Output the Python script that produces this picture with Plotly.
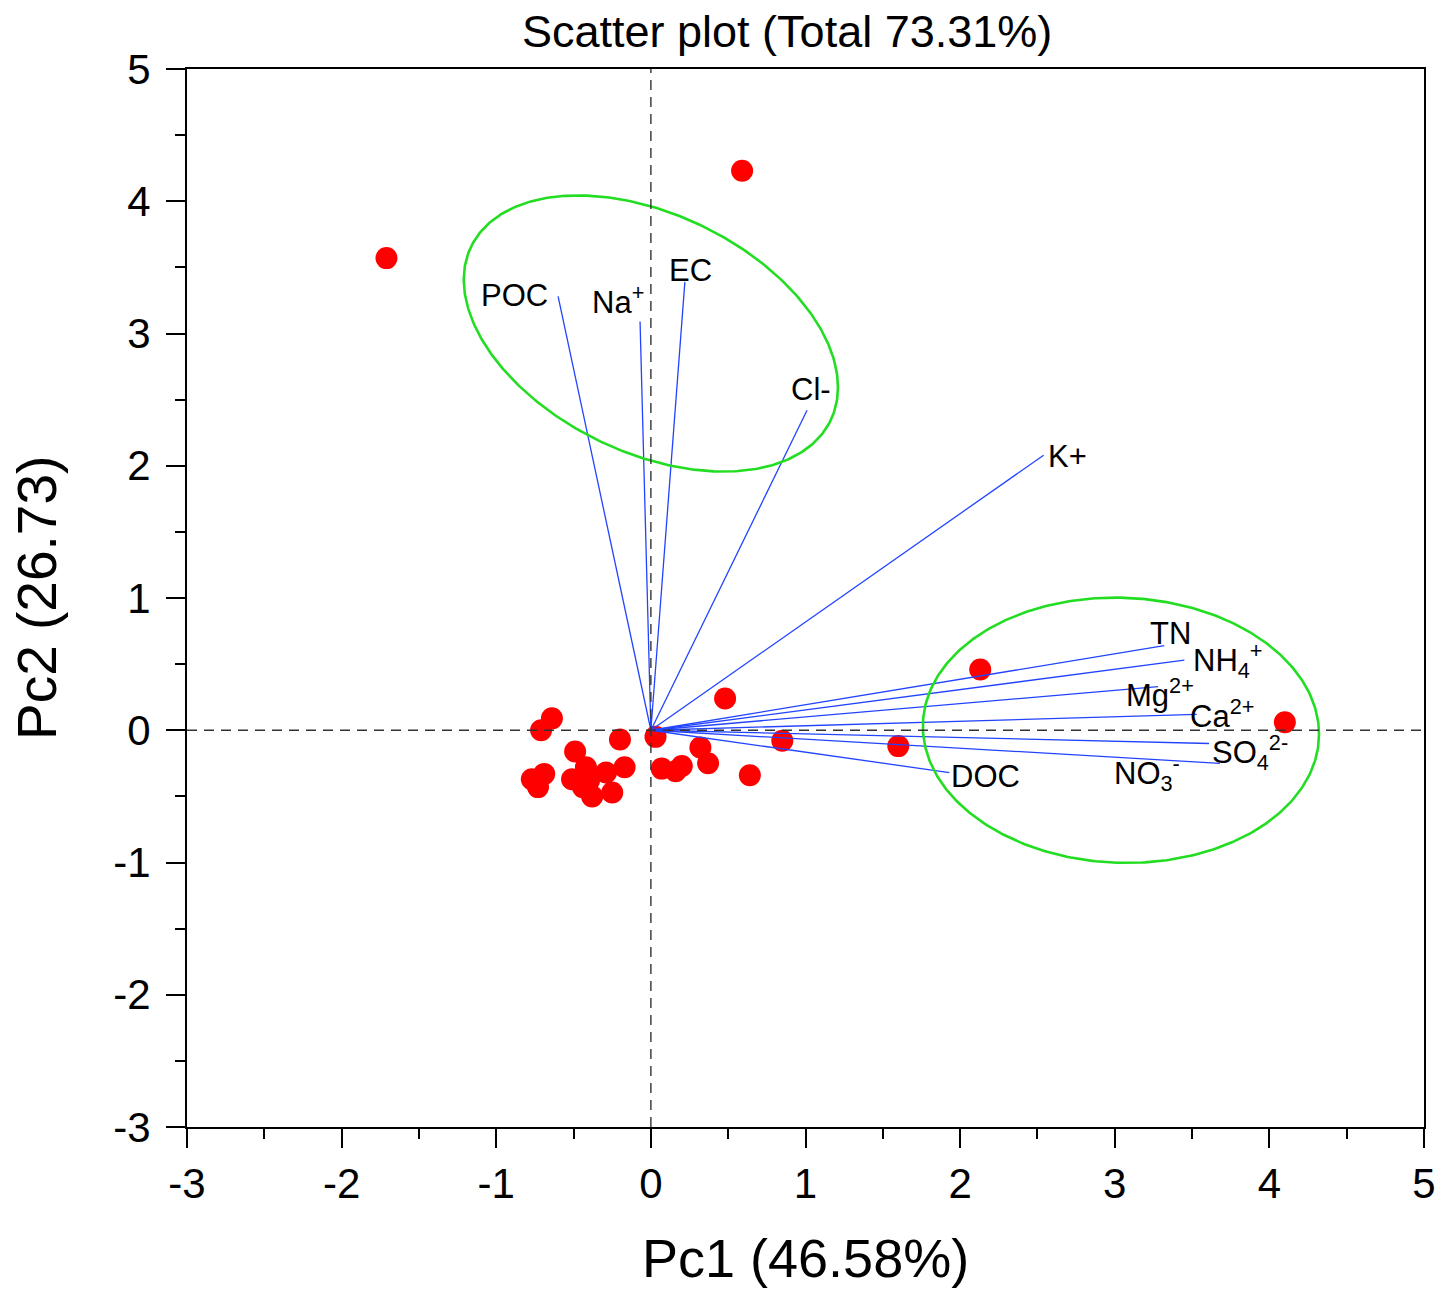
import numpy as np
import plotly.graph_objects as go

# ---- data ----
pc1 = [0.59, -1.71, 2.13, 4.10, 0.48, 0.85, 1.60, 0.64, 0.03, 0.32, 0.37, 0.07, 0.16, 0.20,
       -0.20, -0.64, -0.71, -0.49, -0.17, -0.42, -0.29, -0.51, -0.40, -0.44, -0.38, -0.25,
       -0.69, -0.77, -0.73]
pc2 = [4.23, 3.57, 0.46, 0.06, 0.24, -0.08, -0.12, -0.34, -0.05, -0.13, -0.25, -0.29, -0.31, -0.27,
       -0.07, 0.09, 0.00, -0.16, -0.28, -0.28, -0.32, -0.37, -0.38, -0.43, -0.50, -0.47,
       -0.33, -0.37, -0.43]

var_names = ["POC", "Na<sup>+</sup>", "EC", "Cl-", "K+", "TN", "NH<sub>4</sub><sup>+</sup>",
             "Mg<sup>2+</sup>", "Ca<sup>2+</sup>", "SO<sub>4</sub><sup>2-</sup>",
             "NO<sub>3</sub><sup>-</sup>", "DOC"]
load_pc1 = [-0.60, -0.07, 0.22, 1.01, 2.54, 3.32, 3.45, 3.28, 3.53, 3.61, 3.68, 1.93]
load_pc2 = [3.28, 3.09, 3.39, 2.42, 2.08, 0.64, 0.53, 0.33, 0.12, -0.10, -0.25, -0.32]

# ellipses: center, half-width, half-height, phase
ell_cx = [0.00, 3.04]
ell_cy = [3.00, 0.00]
ell_w = [1.21, 1.281]
ell_h = [1.044, 1.003]
ell_phase = [-0.40, -0.03]

x_ticks = [-3, -2, -1, 0, 1, 2, 3, 4, 5]
y_ticks = [-3, -2, -1, 0, 1, 2, 3, 4, 5]
x_tick_text = ["-3", "-2", "-1", "0", "1", "2", "3", "4", "5"]
y_tick_text = ["-3", "-2", "-1", "0", "1", "2", "3", "4", "5"]

# label placement styles (anchor, xshift px, yshift px)
label_style = [
    ("right", -8, 1),
    ("right", 6, 22),
    ("center", 6, 11),
    ("center", 4, 21),
    ("left", 2, -1),
    ("center", 6, 12),
    ("left", 7, 0),
    ("center", 2, -6),
    ("left", -9, 0),
    ("left", 1, -9),
    ("right", -38, -10),
    ("left", 0, -4),
]

FONT = "Liberation Sans, Arial, sans-serif"
fig = go.Figure()

fig.add_trace(go.Scatter(x=pc1, y=pc2, mode="markers",
                         marker=dict(color="#ff0000", size=22, line=dict(width=0)),
                         hoverinfo="skip", showlegend=False))

lx, ly = [], []
for a, b in zip(load_pc1, load_pc2):
    lx += [0, a, None]
    ly += [0, b, None]
fig.add_trace(go.Scatter(x=lx, y=ly, mode="lines", line=dict(color="#2244ff", width=1.3),
                         hoverinfo="skip", showlegend=False))

t = np.linspace(0, 2 * np.pi, 400)
for cx, cy, w, h, ph in zip(ell_cx, ell_cy, ell_w, ell_h, ell_phase):
    fig.add_trace(go.Scatter(x=cx + w * np.cos(t), y=cy + h * np.sin(t + ph), mode="lines",
                             line=dict(color="#22dd22", width=2.6),
                             hoverinfo="skip", showlegend=False))

# dashed zero lines
fig.add_trace(go.Scatter(x=[x_ticks[0], x_ticks[-1]], y=[0, 0], mode="lines",
                         line=dict(color="#333333", width=1.4, dash="10px,7px"),
                         hoverinfo="skip", showlegend=False))
fig.add_trace(go.Scatter(x=[0, 0], y=[y_ticks[0], y_ticks[-1]], mode="lines",
                         line=dict(color="#333333", width=1.4, dash="10px,7px"),
                         hoverinfo="skip", showlegend=False))

annotations = []
for name, a, b, (anc, xs, ys) in zip(var_names, load_pc1, load_pc2, label_style):
    annotations.append(dict(x=a, y=b, xref="x", yref="y", text=name, showarrow=False,
                            xanchor=anc, yanchor="middle", xshift=xs, yshift=ys,
                            font=dict(family=FONT, size=31, color="black")))

annotations.append(dict(x=0.485, y=1, xref="paper", yref="paper", yanchor="bottom",
                        xanchor="center", yshift=10, showarrow=False,
                        text="Scatter plot (Total 73.31%)",
                        font=dict(family=FONT, size=45, color="black")))
annotations.append(dict(x=0.5, y=0, xref="paper", yref="paper", yanchor="middle",
                        xanchor="center", yshift=-131, showarrow=False,
                        text="Pc1 (46.58%)",
                        font=dict(family=FONT, size=54, color="black")))
annotations.append(dict(x=0, y=0.5, xref="paper", yref="paper", yanchor="middle",
                        xanchor="center", xshift=-150, showarrow=False, textangle=-90,
                        text="Pc2 (26.73)",
                        font=dict(family=FONT, size=55, color="black")))

axis_common = dict(
    showgrid=False, zeroline=False, showline=True, linecolor="black", linewidth=2,
    mirror=True, ticks="outside", ticklen=19, tickwidth=2, tickcolor="black",
    tickfont=dict(family=FONT, size=42, color="black"),
    minor=dict(ticks="outside", ticklen=10, tickwidth=2, tickcolor="black", dtick=0.5),
)

fig.update_layout(
    width=1454, height=1291,
    margin=dict(l=187, r=30, t=69, b=164),
    paper_bgcolor="white", plot_bgcolor="white",
    xaxis=dict(range=[x_ticks[0], x_ticks[-1]], tickvals=x_ticks, ticktext=x_tick_text,
               ticklabelstandoff=0, **axis_common),
    yaxis=dict(range=[y_ticks[0], y_ticks[-1]], tickvals=y_ticks, ticktext=y_tick_text,
               ticklabelstandoff=7, **axis_common),
    annotations=annotations,
    showlegend=False,
)

fig.write_html("out.html", config={"displayModeBar": False},
               post_script="document.body.style.margin='0px';")
